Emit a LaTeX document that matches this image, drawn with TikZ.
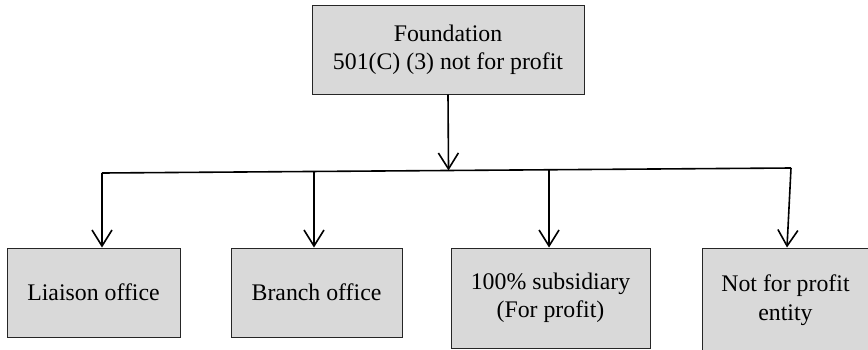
\documentclass[tikz,border=0pt]{standalone}
\usepackage{fontspec}
\setmainfont{Liberation Serif}
\usepackage{tikz}
\usetikzlibrary{arrows.meta,calc}
\definecolor{grisboite}{RGB}{217,217,217}
\tikzstyle{boite}=[draw=black!85,fill=grisboite,line width=0.5pt,align=center,inner sep=0pt,font=\fontsize{11.9}{14.2}\selectfont]
\tikzstyle{trait}=[line width=0.8pt]
\tikzstyle{fleche}=[trait,-{Straight Barb[length=8pt,width=10pt]}]

\begin{document}
\begin{tikzpicture}[x=0.5pt,y=-0.5pt]

\useasboundingbox (0,0) rectangle (868,349);

% boites
\node[boite,minimum width=136pt,minimum height=44.5pt] (fondation) at (448,49.5) {Foundation\\501(C) (3) not for profit};

\node[boite,minimum width=86.5pt,minimum height=44.5pt] (liaison) at (93.5,292.5) {Liaison office};
\node[boite,minimum width=85.5pt,minimum height=44.5pt] (branch) at (316.5,292.5) {Branch office};
\node[boite,minimum width=99.5pt,minimum height=50pt] (subsidiary) at (550.5,298) {100\% subsidiary\\(For profit)};
\node[boite,minimum width=83.5pt,minimum height=52pt] (nonprofit) at (785.5,300) {Not for profit\\entity};

% barre
\coordinate (gauche) at (102,173);
\coordinate (droite) at (791,168);
\draw[trait] (gauche) -- (droite);

\draw[fleche] (fondation.south) -- ($(gauche)!(fondation.south)!(droite)$);

\draw[fleche] (gauche) -- (gauche |- liaison.north);
\foreach \f/\b in {0.3077/branch,0.6488/subsidiary}
  {\coordinate (p\b) at ($(gauche)!\f!(droite)$);
  \draw[fleche] (p\b) -- (p\b |- \b.north);
  }
\draw[fleche] (droite) -- ([xshift=-2pt]droite |- nonprofit.north);

\end{tikzpicture}
\end{document}
